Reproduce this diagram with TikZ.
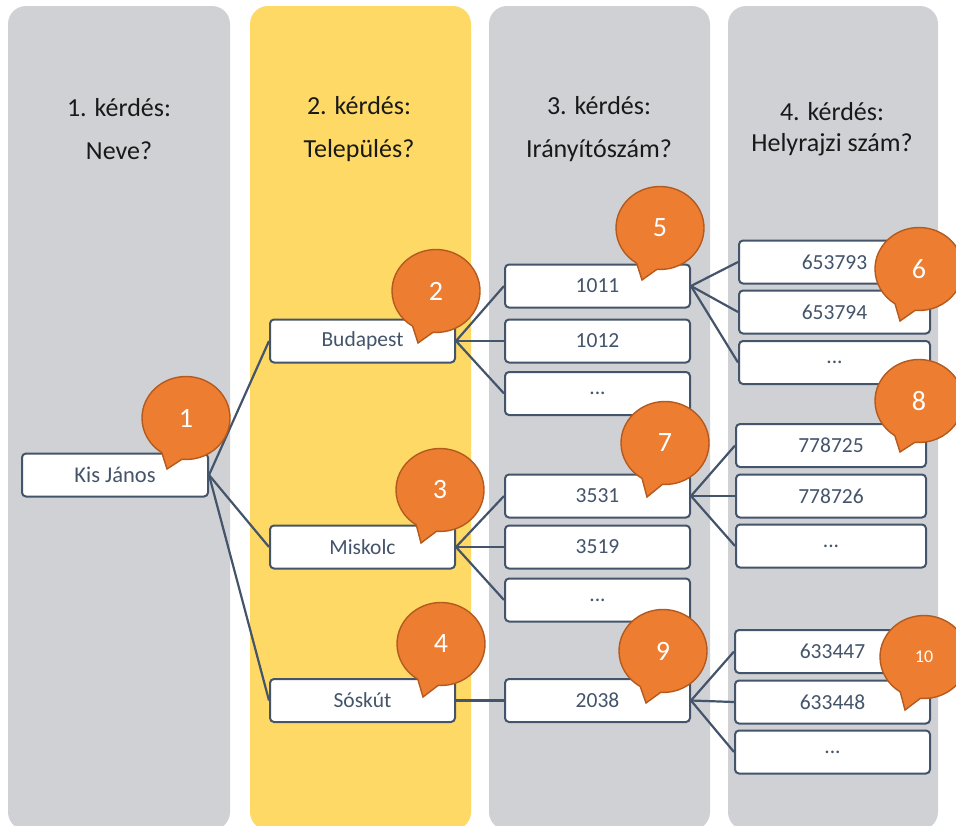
\documentclass[tikz,border=0pt]{standalone}
\usepackage{fontspec}
\setmainfont{Carlito}
\usetikzlibrary{shapes.callouts}
\definecolor{slate}{HTML}{44546A}
\definecolor{panelgray}{HTML}{D0D1D5}
\definecolor{panelyellow}{HTML}{FED966}
\definecolor{orangefill}{HTML}{ED7D31}
\definecolor{orangeline}{HTML}{B45A1E}
\tikzset{
  answer/.style={draw=slate, line width=2pt, rounded corners=4pt, fill=white,
    minimum height=43pt, text=slate, inner sep=0pt, font=\fontsize{21.5}{24}\selectfont},
  link/.style={draw=slate, line width=2.2pt},
  question/.style={align=center, text=black!90, font=\fontsize{26}{43}\selectfont},
  bubble/.style={ellipse callout, fill=orangefill, draw=orangeline, line width=1.4pt,
    minimum width=88pt, minimum height=83pt, inner sep=0pt, callout pointer arc=28,
    text=white, font=\fontsize{28}{30}\selectfont}
}
\begin{document}
\begin{tikzpicture}[x=1pt,y=-1pt]
\useasboundingbox (0,0) rectangle (956,825);
% question columns
\fill[panelgray, rounded corners=18pt] (8,6) rectangle (230,830);
\fill[panelyellow, rounded corners=18pt] (250,6) rectangle (471,830);
\fill[panelgray, rounded corners=18pt] (489,6) rectangle (710,830);
\fill[panelgray, rounded corners=18pt] (728,6) rectangle (938,830);
\node[question] (q1) at (119,129) {1. kérdés:\\Neve?};
\node[question] (q2) at (359,129) {2. kérdés:\\Település?};
\node[question] (q3) at (599,129) {3. kérdés:\\Irányítószám?};
\node[question, font=\fontsize{26}{31}\selectfont] (q4) at (832,129) {4. kérdés:\\Helyrajzi szám?};
% answers
\node[answer, minimum width=186pt, font=\fontsize{22.5}{24}\selectfont] (kis) at (115,475) {Kis János};
\node[answer, minimum width=185pt] (buda) at (362.5,341) {Budapest};
\node[answer, minimum width=185pt] (misk) at (362.5,547) {Miskolc};
\node[answer, minimum width=185pt] (sosk) at (362.5,700.5) {Sóskút};
\node[answer, minimum width=185pt] (z1011) at (597.5,286) {1011};
\node[answer, minimum width=185pt] (z1012) at (597.5,341) {1012};
\node[answer, minimum width=185pt] (zdots1) at (597.5,393.5) {...};
\node[answer, minimum width=185pt] (z3531) at (597.5,496) {3531};
\node[answer, minimum width=185pt] (z3519) at (597.5,547) {3519};
\node[answer, minimum width=185pt] (zdots2) at (597.5,600) {...};
\node[answer, minimum width=185pt] (z2038) at (597.5,700.5) {2038};
\node[answer, minimum width=191pt] (h653793) at (834.5,262) {653793};
\node[answer, minimum width=191pt] (h653794) at (834.5,312) {653794};
\node[answer, minimum width=191pt] (hdots1) at (834.5,362.5) {...};
\node[answer, minimum width=190pt] (h778725) at (831,445.5) {778725};
\node[answer, minimum width=190pt] (h778726) at (831,496) {778726};
\node[answer, minimum width=190pt] (hdots2) at (831,546) {...};
\node[answer, minimum width=195pt] (h633447) at (832.5,651.5) {633447};
\node[answer, minimum width=195pt] (h633448) at (832.5,702) {633448};
\node[answer, minimum width=195pt] (hdots3) at (832.5,752) {...};
% links
\foreach \a/\b in {kis/buda, kis/misk, kis/sosk,
    buda/z1011, buda/z1012, buda/zdots1,
    misk/z3531, misk/z3519, misk/zdots2, sosk/z2038,
    z1011/h653793, z1011/h653794, z1011/hdots1,
    z3531/h778725, z3531/h778726, z3531/hdots2,
    z2038/h633447, z2038/h633448, z2038/hdots3}
  \path[link] (\a.east) -- (\b.west);
% callouts
\node[bubble, callout absolute pointer={(167,469)}] (b1) at (186,418) {1};
\node[bubble, callout absolute pointer={(418,343)}] (b2) at (436,291) {2};
\node[bubble, callout absolute pointer={(421,543)}] (b3) at (440,490) {3};
\node[bubble, callout absolute pointer={(423,697)}] (b4) at (441,644) {4};
\node[bubble, callout absolute pointer={(642,280)}] (b5) at (660,228) {5};
\node[bubble, callout absolute pointer={(900,321)}] (b6) at (919,269) {6};
\node[bubble, callout absolute pointer={(647,497)}] (b7) at (665,443) {7};
\node[bubble, callout absolute pointer={(900,452)}] (b8) at (919,401) {8};
\node[bubble, callout absolute pointer={(646,703)}] (b9) at (663,651) {9};
\node[bubble, callout absolute pointer={(905,710)}, font=\fontsize{18}{20}\selectfont] (b10) at (924,657) {10};
\end{tikzpicture}
\end{document}
